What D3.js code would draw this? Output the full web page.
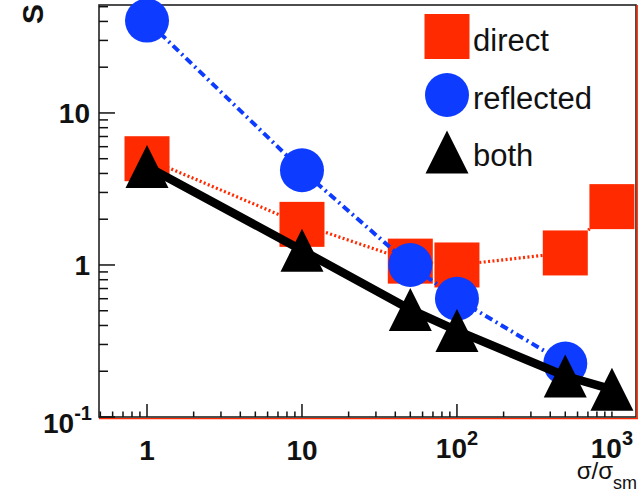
<!DOCTYPE html>
<html>
<head>
<meta charset="utf-8">
<script src="https://cdn.jsdelivr.net/npm/d3@7"></script>
<style>
  html, body { margin: 0; padding: 0; background: #fff; }
  svg { display: block; font-family: "Liberation Sans", Arial, Helvetica, sans-serif; }
</style>
</head>
<body>
<svg id="chart" width="642" height="495"></svg>
<script>
// σ / σ_sm values at which the signal ratio S was evaluated
const sigmaRatio = [1, 10, 50, 100, 500, 1000];

// S for each configuration
const directS    = [5.0, 1.85, 1.06, 1.0, 1.2, 2.42];
const reflectedS = [40.5, 4.2, 1.0, 0.6, 0.225];
const bothS      = [4.45, 1.25, 0.51, 0.37, 0.186, 0.152];

const seriesNames = ["direct", "reflected", "both"];

const xMajorTicks = [1, 10, 100];
const xTickLabels = [["1", ""], ["10", ""], ["10", "2"], ["10", "3"]];
const xLabelValues = [1, 10, 100, 1000];
const yLabelValues = [0.1, 1, 10];
const yTickLabels = [["10", "-1"], ["1", ""], ["10", ""]];

const RED = "#ff2a00", BLUE = "#0d3bff", BLACK = "#000";

const svg = d3.select("#chart");
const L = 99, R = 636, T = 5, B = 417;

const x = d3.scaleLog().domain([0.49, 1430]).range([L, R]);
const y = d3.scaleLog().domain([0.1, 51.3]).range([B, T]);

// frame with a red edge on the right and bottom
svg.append("rect").attr("x", L).attr("y", T).attr("width", R - L).attr("height", B - T)
  .attr("fill", "#fff").attr("stroke", "#222").attr("stroke-width", 1.6);
svg.append("line").attr("x1", R + 1.2).attr("x2", R + 1.2).attr("y1", T).attr("y2", B + 2)
  .attr("stroke", RED).attr("stroke-width", 1.4);
svg.append("line").attr("x1", L).attr("x2", R + 2).attr("y1", B + 1.6).attr("y2", B + 1.6)
  .attr("stroke", RED).attr("stroke-width", 1.4);

// log ticks
function logTicks(lo, hi) {
  const out = [];
  for (let e = -2; e <= 4; e++) {
    for (let m = 1; m <= 9; m++) {
      const v = m * Math.pow(10, e);
      if (v >= lo * 0.999 && v <= hi * 1.001) out.push(v);
    }
  }
  return out;
}
const isMajorX = v => xMajorTicks.some(t => Math.abs(t - v) / t < 1e-6);
const isMajorY = v => yLabelValues.some(t => Math.abs(t - v) / t < 1e-6);

const xAxisG = svg.append("g");
logTicks(0.5, 1430).forEach(v => {
  const px = x(v), len = isMajorX(v) ? 13 : 5.5;
  xAxisG.append("line").attr("x1", px).attr("x2", px).attr("y1", B).attr("y2", B - len)
    .attr("stroke", "#111").attr("stroke-width", 1.5);
});
const yAxisG = svg.append("g");
logTicks(0.1, 51.3).forEach(v => {
  const py = y(v), len = isMajorY(v) ? 16 : 9;
  yAxisG.append("line").attr("x1", L).attr("x2", L + len).attr("y1", py).attr("y2", py)
    .attr("stroke", "#111").attr("stroke-width", 1.5);
});

// tick labels with superscript exponents
function powerLabel(g, base, exp, anchor) {
  const t = g.append("text").attr("font-weight", "bold").attr("font-size", 28)
    .attr("fill", "#111").attr("text-anchor", anchor);
  t.append("tspan").text(base);
  if (exp) t.append("tspan").attr("font-size", 20).attr("dy", -13).text(exp);
  return t;
}
xLabelValues.forEach((v, i) => {
  const [b, e] = xTickLabels[i];
  const g = svg.append("g").attr("transform", `translate(${x(v)},${e ? 458 : 460})`);
  powerLabel(g, b, e, "middle");
});
yLabelValues.forEach((v, i) => {
  const [b, e] = yTickLabels[i];
  const dy = e ? 16 : 10;
  const g = svg.append("g").attr("transform", `translate(${e ? 92 : 90},${y(v) + dy})`);
  powerLabel(g, b, e, "end");
});

// axis titles
svg.append("text").attr("transform", "translate(43,14) rotate(-90)")
  .attr("text-anchor", "middle").attr("font-weight", "bold").attr("font-size", 30)
  .attr("fill", "#111").text("S");
const xt = svg.append("text").attr("x", 637).attr("y", 479).attr("text-anchor", "end")
  .attr("font-size", 24).attr("fill", "#111");
xt.append("tspan").text("σ/σ");
xt.append("tspan").attr("font-size", 18).attr("dy", 10).text("sm");

// markers
function drawMarker(g, kind, cx, cy) {
  if (kind === "direct") {
    g.append("rect").attr("x", cx - 22.5).attr("y", cy - 22.5).attr("width", 45).attr("height", 45)
      .attr("fill", RED);
  } else if (kind === "reflected") {
    g.append("circle").attr("cx", cx).attr("cy", cy).attr("r", 22).attr("fill", BLUE);
  } else {
    g.append("path").attr("d", `M${cx},${cy - 21.5}L${cx + 21.5},${cy + 21.5}L${cx - 21.5},${cy + 21.5}Z`)
      .attr("fill", BLACK);
  }
}

const line = d3.line().x(d => x(d[0])).y(d => y(d[1]));
const series = [
  { name: "direct", values: directS, stroke: RED, width: 3.2, dash: "2,2.4" },
  { name: "reflected", values: reflectedS, stroke: BLUE, width: 4, dash: "8,4,2,4" },
  { name: "both", values: bothS, stroke: BLACK, width: 8.5, dash: null }
];

const plot = svg.append("g");
series.forEach(s => {
  const pts = s.values.map((v, i) => [sigmaRatio[i], v]);
  const g = plot.append("g");
  g.append("path").attr("d", line(pts)).attr("fill", "none")
    .attr("stroke", s.stroke).attr("stroke-width", s.width)
    .attr("stroke-dasharray", s.dash);
  pts.forEach(p => drawMarker(g, s.name, x(p[0]), y(p[1])));
});

// legend
const legendY = [36.5, 95, 152];
const legend = svg.append("g");
seriesNames.forEach((n, i) => {
  drawMarker(legend, n, 447, legendY[i]);
  legend.append("text").attr("x", 473).attr("y", legendY[i] + 14)
    .attr("font-size", 31).attr("fill", "#111").text(n);
});
</script>
</body>
</html>
